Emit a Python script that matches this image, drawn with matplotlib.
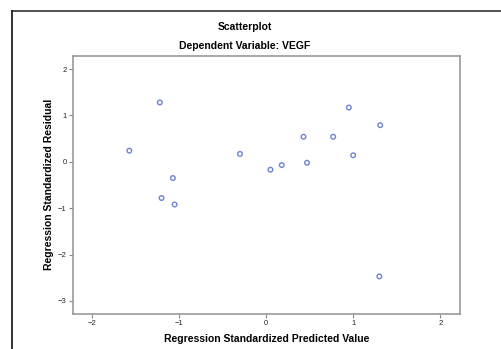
import matplotlib.pyplot as plt
from matplotlib.lines import Line2D

# Data
predicted = [-1.22, -1.57, -0.30, 0.05, 0.18, -1.07, -1.20, -1.05,
             0.95, 1.31, 0.43, 0.77, 1.00, 0.47, 1.30]
residual = [1.28, 0.24, 0.17, -0.17, -0.07, -0.35, -0.78, -0.92,
            1.17, 0.79, 0.54, 0.54, 0.14, -0.02, -2.47]
x_ticks = [-2, -1, 0, 1, 2]
y_ticks = [2, 1, 0, -1, -2, -3]

plt.rcParams['font.family'] = ['Liberation Sans', 'DejaVu Sans']

fig = plt.figure(figsize=(5.01, 3.49), dpi=100)
W, H = 501, 349
ax = fig.add_axes([72.7 / W, 1 - 313.5 / H, (460 - 72.7) / W, (313.5 - 55.7) / H])

ax.scatter(predicted, residual, s=11, facecolors='none',
           edgecolors='#6f82d4', linewidths=1.0)

ax.set_xlim(-2.22, 2.226)
ax.set_ylim(-3.27, 2.287)
ax.set_xticks(x_ticks)
ax.set_yticks(y_ticks)
ax.tick_params(labelsize=5.5, length=3, width=0.8, color='#888888',
               labelcolor='#222222', pad=1.5)
for s in ax.spines.values():
    s.set_color('#999999')
    s.set_linewidth(1.2)

ax.set_xlabel('Regression Standardized Predicted Value', fontsize=7.5,
              fontweight='bold', labelpad=5)
ax.set_ylabel('Regression Standardized Residual', fontsize=7.5,
              fontweight='bold', labelpad=3)

fig.text(245 / W, 1 - 26.7 / H, 'Scatterplot', ha='center', va='center',
         fontsize=7.5, fontweight='bold')
fig.text(245 / W, 1 - 45.7 / H, 'Dependent Variable: VEGF', ha='center',
         va='center', fontsize=7.5, fontweight='bold')

# outer frame lines (top and left)
fig.add_artist(Line2D([12 / W, 1], [1 - 11 / H, 1 - 11 / H], color='#333333', lw=1.2))
fig.add_artist(Line2D([12 / W, 12 / W], [0, 1 - 11 / H], color='#111111', lw=1.2))

plt.savefig('out.png', dpi=100)
